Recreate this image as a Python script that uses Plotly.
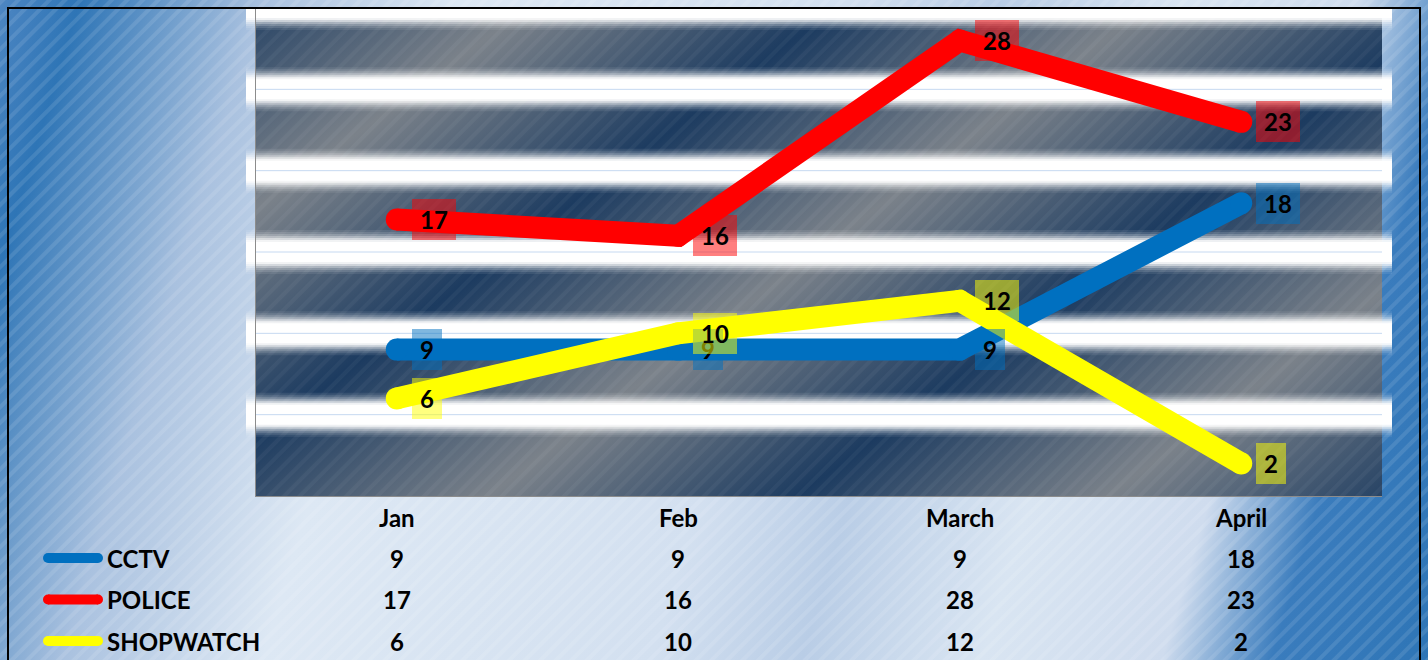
import base64
import plotly.graph_objects as go

# ---------------- data ----------------
months = ["Jan", "Feb", "March", "April"]
series_names = ["CCTV", "POLICE", "SHOPWATCH"]
cctv = [9, 9, 9, 18]
police = [17, 16, 28, 23]
shopwatch = [6, 10, 12, 2]
series_values = [cctv, police, shopwatch]
grid_values = [5, 10, 15, 20, 25, 30]

# ---------------- styles ----------------
W, H = 1428, 660
line_colors = ["#0070c0", "#ff0000", "#ffff00"]
label_bg = ["rgba(0,112,192,0.5)", "rgba(255,0,0,0.5)", "rgba(255,255,0,0.5)"]
FONT = "Lato"
FSIZE = 24

px_left, px_right, px_top, px_bottom = 256, 1382, 8, 496
xdom = [px_left / W, px_right / W]
ydom = [(H - px_bottom) / H, (H - px_top) / H]
yrange = [0, 30]


def svg_uri(svg):
    return "data:image/svg+xml;base64," + base64.b64encode(svg.encode()).decode()


stripes = ("<pattern id='s' width='11' height='11' patternUnits='userSpaceOnUse' "
           "patternTransform='rotate(45)'><rect x='0' y='0' width='4' height='11' "
           "fill='#ffffff' fill-opacity='{op}'/></pattern>")

# paper background: blue / light diagonal gradient with fine stripes
paper_stops = [(0, "#4d86c2"), (80, "#2e75b6"), (260, "#a9c1df"), (460, "#dde8f4"),
               (850, "#d3e0f0"), (1000, "#b9cde6"), (1180, "#d9e5f2"), (1360, "#cfdcee"),
               (1470, "#3a7cbd"), (1630, "#2e75b6")]
stop_xml = "".join(f"<stop offset='{u/1630:.4f}' stop-color='{c}'/>" for u, c in paper_stops)
paper_svg = (f"<svg xmlns='http://www.w3.org/2000/svg' width='{W}' height='{H}' viewBox='0 0 {W} {H}'>"
             f"<defs><linearGradient id='g' gradientUnits='userSpaceOnUse' x1='0' y1='0' x2='1495' y2='448.6'>"
             f"{stop_xml}</linearGradient>{stripes.format(op=0.10)}</defs>"
             f"<rect width='{W}' height='{H}' fill='url(#g)'/>"
             f"<rect width='{W}' height='{H}' fill='url(#s)'/></svg>")

# plot area background: repeating navy / grey diagonal gradient
PW, PH = px_right - px_left, px_bottom - px_top
plot_svg = (f"<svg xmlns='http://www.w3.org/2000/svg' width='{PW}' height='{PH}' viewBox='0 0 {PW} {PH}'>"
            f"<defs><linearGradient id='g' gradientUnits='userSpaceOnUse' spreadMethod='repeat' "
            f"x1='580.7' y1='0' x2='800.3' y2='296.5'>"
            f"<stop offset='0' stop-color='#1c3b60'/><stop offset='0.5' stop-color='#7b828a'/>"
            f"<stop offset='1' stop-color='#1c3b60'/></linearGradient>{stripes.format(op=0.04)}</defs>"
            f"<rect width='{PW}' height='{PH}' fill='url(#g)'/>"
            f"<rect width='{PW}' height='{PH}' fill='url(#s)'/></svg>")

fig = go.Figure()

for name, vals, col in zip(series_names, series_values, line_colors):
    fig.add_trace(go.Scatter(
        x=months, y=vals, name=name, mode="lines+markers",
        line=dict(color=col, width=22),
        marker=dict(color=col, size=22, line=dict(width=0)),
        showlegend=False, hoverinfo="skip", cliponaxis=False))

shapes = []
# glowing gridlines (soft white glow, solid core, thin line)
ext = 10 / W
for v in grid_values:
    for w, op in [(44, 0.08), (40, 0.12), (36, 0.18), (32, 0.28), (28, 0.45), (24, 0.7), (20, 1.0)]:
        shapes.append(dict(type="line", xref="paper", yref="y", x0=xdom[0] - ext, x1=xdom[1] + ext,
                           y0=v, y1=v, line=dict(color="white", width=w), opacity=op, layer="below"))
    shapes.append(dict(type="line", xref="paper", yref="y", x0=xdom[0], x1=xdom[1], y0=v, y1=v,
                       line=dict(color="#c6d9f1", width=1), layer="below"))

annotations = []
fnt = dict(family=FONT, size=FSIZE, color="black", weight=700)
# data labels
for i, vals in enumerate(series_values):
    for m, v in zip(months, vals):
        t = str(v)
        annotations.append(dict(
            x=m, y=v, xref="x", yref="y", text=t, showarrow=False,
            xanchor="left", yanchor="middle", xshift=15,
            width=30 if len(t) == 1 else 44, height=41, align="center", valign="middle",
            bgcolor=label_bg[i], borderpad=0, borderwidth=0, font=fnt))

# data table
header_y = 1 - 517 / H
row_y = [1 - 558 / H, 1 - 599.5 / H, 1 - 641 / H]
for m in months:
    annotations.append(dict(x=m, y=header_y, xref="x", yref="paper", text=m, showarrow=False,
                            xanchor="center", yanchor="middle", font=fnt))
for i, (name, vals) in enumerate(zip(series_names, series_values)):
    annotations.append(dict(x=105 / W, y=row_y[i], xref="paper", yref="paper", text=name,
                            showarrow=False, xanchor="left", yanchor="middle", font=fnt))
    for m, v in zip(months, vals):
        annotations.append(dict(x=m, y=row_y[i], xref="x", yref="paper", text=str(v), showarrow=False,
                                xanchor="center", yanchor="middle", font=fnt))
    # legend key
    kx0, kx1, r = 48 / W, 98 / W, 5
    shapes.append(dict(type="line", xref="paper", yref="paper", x0=kx0, x1=kx1, y0=row_y[i], y1=row_y[i],
                       line=dict(color=line_colors[i], width=10)))
    for kx in (kx0, kx1):
        shapes.append(dict(type="circle", xref="paper", yref="paper",
                           x0=kx - r / W, x1=kx + r / W, y0=row_y[i] - r / H, y1=row_y[i] + r / H,
                           fillcolor=line_colors[i], line=dict(width=0)))

# outer chart border
shapes.append(dict(type="rect", xref="paper", yref="paper", x0=8 / W, x1=1420 / W, y0=-0.1, y1=1 - 8 / H,
                   line=dict(color="black", width=2), fillcolor="rgba(0,0,0,0)", layer="above"))

fig.update_layout(
    width=W, height=H, margin=dict(l=0, r=0, t=0, b=0),
    paper_bgcolor="#8fb0d8", plot_bgcolor="rgba(0,0,0,0)",
    images=[
        dict(source=svg_uri(paper_svg), xref="paper", yref="paper", x=0, y=1, sizex=1, sizey=1,
             xanchor="left", yanchor="top", sizing="stretch", layer="below"),
        dict(source=svg_uri(plot_svg), xref="paper", yref="paper", x=xdom[0], y=ydom[1],
             sizex=xdom[1] - xdom[0], sizey=ydom[1] - ydom[0],
             xanchor="left", yanchor="top", sizing="stretch", layer="below"),
    ],
    xaxis=dict(type="category", domain=xdom, range=[-0.5, 3.5], showticklabels=False, showgrid=False,
               zeroline=False, showline=True, linecolor="#8c8c8c", linewidth=1, ticks=""),
    yaxis=dict(domain=ydom, range=yrange, showticklabels=False, showgrid=False, zeroline=False,
               showline=True, linecolor="#8c8c8c", linewidth=1, ticks=""),
    shapes=shapes, annotations=annotations, showlegend=False,
)

fig.write_html("out.html", config={"displayModeBar": False},
               post_script="document.body.style.margin='0';document.body.style.overflow='hidden';")
